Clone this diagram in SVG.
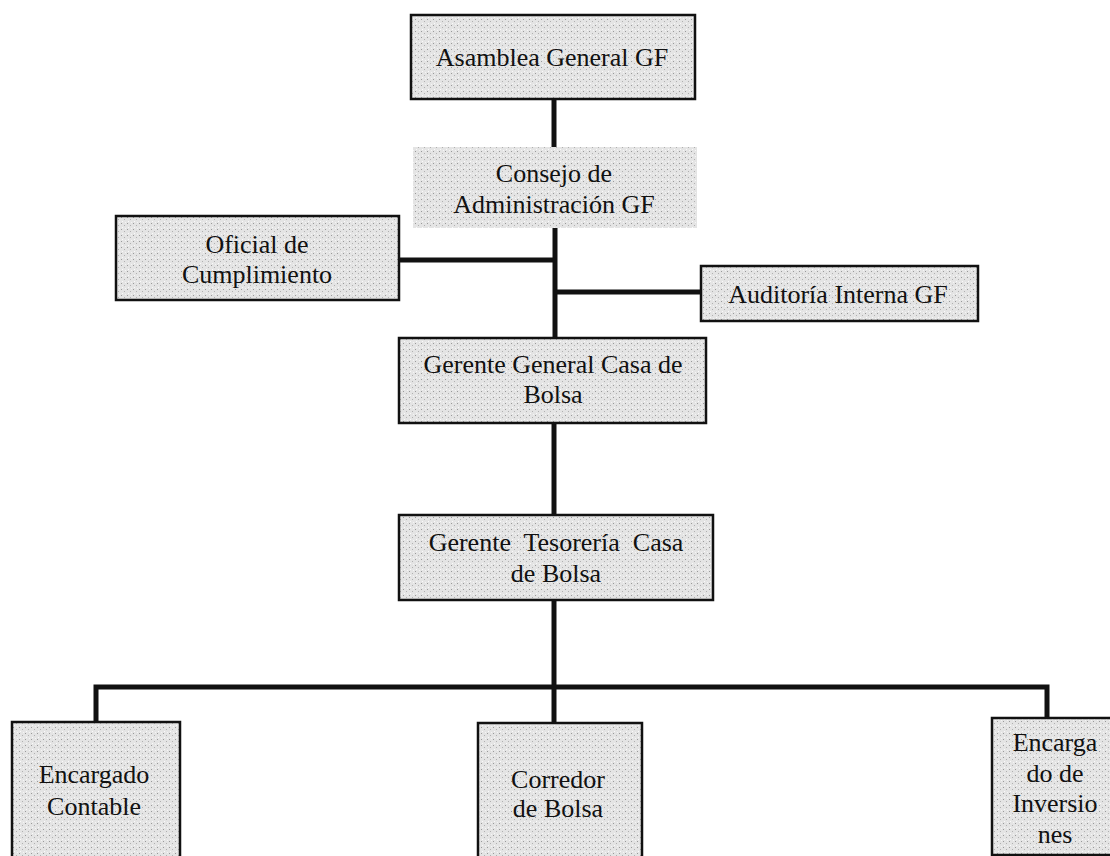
<svg xmlns="http://www.w3.org/2000/svg" width="1110" height="856" viewBox="0 0 1110 856">
<defs>
<pattern id="stip" width="6" height="6" patternUnits="userSpaceOnUse">
<rect width="6" height="6" fill="#e4e4e4"/>
<rect x="1" y="1" width="1" height="1" fill="#9a9a9a"/>
<rect x="4" y="3" width="1" height="1" fill="#b0b0b0"/>
<rect x="2" y="5" width="1" height="1" fill="#fafafa"/>
<rect x="5" y="0" width="1" height="1" fill="#f5f5f5"/>
</pattern>
<style>
.box{fill:url(#stip);stroke:#111;stroke-width:2.5}
.shade{fill:url(#stip);stroke:none}
.lbl{font-family:"Liberation Serif","Times New Roman",serif;font-size:26px;fill:#111;text-anchor:middle}
.con{stroke:#111;stroke-width:5;fill:none}
</style>
</defs>
<rect width="1110" height="856" fill="#ffffff"/>
<g id="connectors">
<line class="con" x1="554" y1="99" x2="554" y2="147"/>
<line class="con" x1="555" y1="228" x2="555" y2="338"/>
<line class="con" x1="399" y1="260" x2="555" y2="260"/>
<line class="con" x1="555" y1="292" x2="702" y2="292"/>
<line class="con" x1="554" y1="423" x2="554" y2="515"/>
<line class="con" x1="554" y1="600" x2="554" y2="687"/>
<polyline class="con" points="96,722 96,687 1047,687 1047,718"/>
<line class="con" x1="554" y1="687" x2="554" y2="723"/>
</g>
<g id="asamblea">
<rect class="box" x="411" y="15" width="284" height="84"/>
<text class="lbl" x="552" y="66">Asamblea General GF</text>
</g>
<g id="consejo">
<rect class="shade" x="413" y="147" width="284" height="81"/>
<text class="lbl" x="554" y="182">Consejo de</text>
<text class="lbl" x="554" y="213">Administración GF</text>
</g>
<g id="oficial">
<rect class="box" x="116" y="216" width="283" height="84"/>
<text class="lbl" x="257" y="253">Oficial de</text>
<text class="lbl" x="257" y="283">Cumplimiento</text>
</g>
<g id="auditoria">
<rect class="box" x="701" y="266" width="277" height="55"/>
<text class="lbl" x="838" y="303">Auditoría Interna GF</text>
</g>
<g id="gerente-general">
<rect class="box" x="399" y="338" width="307" height="85"/>
<text class="lbl" x="553" y="373">Gerente General Casa de</text>
<text class="lbl" x="553" y="403">Bolsa</text>
</g>
<g id="gerente-tesoreria">
<rect class="box" x="399" y="515" width="314" height="85"/>
<text class="lbl" x="556" y="551" xml:space="preserve">Gerente  Tesorería  Casa</text>
<text class="lbl" x="556" y="582">de Bolsa</text>
</g>
<g id="encargado-contable">
<rect class="box" x="12" y="722" width="168" height="150"/>
<text class="lbl" x="94" y="783">Encargado</text>
<text class="lbl" x="94" y="815">Contable</text>
</g>
<g id="corredor">
<rect class="box" x="478" y="723" width="164" height="150"/>
<text class="lbl" x="558" y="788">Corredor</text>
<text class="lbl" x="558" y="817">de Bolsa</text>
</g>
<g id="encargado-inversiones">
<rect class="box" x="992" y="718" width="130" height="137"/>
<text class="lbl" x="1055" y="751">Encarga</text>
<text class="lbl" x="1055" y="782">do de</text>
<text class="lbl" x="1055" y="812">Inversio</text>
<text class="lbl" x="1055" y="843">nes</text>
</g>
</svg>
